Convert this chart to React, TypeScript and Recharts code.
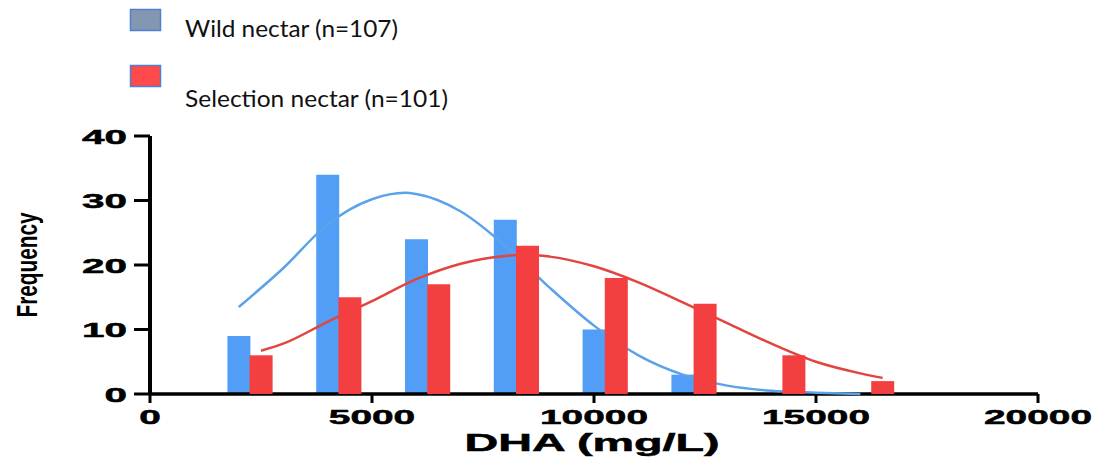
import { ComposedChart, BarChart, LineChart, Bar, Line, XAxis, YAxis, Label } from 'recharts'

// histogram counts: wild bins at 2000, 4000 ... and selection bins offset by 500
const wildBins = [2000, 4000, 6000, 8000, 10000, 12000]
const wildCounts = [9, 34, 24, 27, 10, 3]
const selectionBins = [2500, 4500, 6500, 8500, 10500, 12500, 14500, 16500]
const selectionCounts = [6, 15, 17, 23, 18, 14, 6, 2]

// fitted curves
const wildFitX = [2000, 3000, 4000, 5000, 5750, 6000, 7000, 8000, 9000, 10000, 11000, 12000, 13000, 14000, 15000, 16000]
const wildFitY = [13.5, 19.5, 26.3, 30.2, 31.2, 31, 28.3, 23, 16.5, 10.6, 6, 3, 1.3, 0.5, 0.2, 0]
const selFitX = [2500, 3000, 4000, 5000, 6000, 7000, 8000, 8500, 9000, 10000, 11000, 12000, 13000, 14000, 15000, 16000, 16500]
const selFitY = [6.7, 7.8, 11.2, 14.4, 17.8, 20.2, 21.4, 21.6, 21.3, 19.8, 17.3, 14.2, 11, 7.8, 5, 3.2, 2.5]

const xTicks = [0, 5000, 10000, 15000, 20000]
const yTicks = [0, 10, 20, 30, 40]

const wildRows = wildBins.map((x, i) => ({ x, count: wildCounts[i] }))
const selRows = selectionBins.map((x, i) => ({ x, count: selectionCounts[i] }))
const wildFit = wildFitX.map((x, i) => ({ x, wild: wildFitY[i] }))
const selFit = selFitX.map((x, i) => ({ x, sel: selFitY[i] }))
const fitRows = [...wildFit, ...selFit].sort((a, b) => a.x - b.x)

const W = 1101
const H = 460
const BLUE = '#529ef6'
const RED = '#f43f41'
const tickFont = '"Liberation Sans", Arial, sans-serif'
const layer = { position: 'absolute' as const, left: 0, top: 0 }
// overlay charts hide their axes, so the axis room goes into the margin
const overlayMargin = { top: 136, right: 63, bottom: 66, left: 150 }

const YTick = ({ x, y, payload }: any) => {
  const s = String(payload.value)
  return (
    <text x={x} y={y} dy={7.5} textAnchor="end" fontFamily={tickFont} fontWeight={700}
      fontSize={21} fill="#000" stroke="#000" strokeWidth={0.5}
      textLength={s.length * 22.5} lengthAdjust="spacingAndGlyphs">
      {s}
    </text>
  )
}

const XTick = ({ x, y, payload }: any) => {
  const s = String(payload.value)
  return (
    <text x={x} y={y} dy={17} textAnchor="middle" fontFamily={tickFont} fontWeight={700}
      fontSize={21} fill="#000" stroke="#000" strokeWidth={0.5}
      textLength={s.length * 21.6} lengthAdjust="spacingAndGlyphs">
      {s}
    </text>
  )
}

function LegendBox() {
  const legendFont = 'Lato, "Open Sans", sans-serif'
  return (
    <svg width={500} height={120} style={layer}>
      <rect x={130.5} y={9.5} width={30} height={21} fill="#8497b0" stroke="#4f7fd0" strokeWidth={1.5} />
      <text x={185} y={37} fontFamily={legendFont} fontSize={23} fill="#111"
        textLength={213} lengthAdjust="spacingAndGlyphs">Wild nectar (n=107)</text>
      <rect x={130.5} y={65.5} width={30} height={21} fill="#fe4a4a" stroke="#4f7fd0" strokeWidth={1.5} />
      <text x={185} y={107} fontFamily={legendFont} fontSize={23} fill="#111"
        textLength={263} lengthAdjust="spacingAndGlyphs">Selection nectar (n=101)</text>
    </svg>
  )
}

function HiddenAxes() {
  return [
    <XAxis key="x" dataKey="x" type="number" domain={[0, 20000]} hide allowDataOverflow />,
    <YAxis key="y" type="number" domain={[0, 40]} hide />,
  ]
}

export default function App() {
  return (
    <div style={{ position: 'absolute', left: 0, top: 0, width: W, height: H, background: '#fff' }}>
      {/* base layer: axes + wild bars */}
      <ComposedChart width={W} height={H} data={wildRows}
        margin={{ top: 136, right: 63, bottom: 0, left: 0 }} style={layer}>
        <XAxis
          dataKey="x"
          type="number"
          domain={[0, 20000]}
          ticks={xTicks}
          height={66}
          tick={<XTick />}
          tickSize={9}
          tickMargin={4}
          tickLine={{ stroke: '#000', strokeWidth: 3 }}
          axisLine={{ stroke: '#000', strokeWidth: 3.5 }}
          allowDataOverflow
        >
          <Label
            content={() => (
              <text x={592} y={451} textAnchor="middle" fontFamily={tickFont} fontWeight={700}
                fontSize={24} fill="#000" stroke="#000" strokeWidth={0.5}
                textLength={255} lengthAdjust="spacingAndGlyphs">
                DHA (mg/L)
              </text>
            )}
          />
        </XAxis>
        <YAxis
          type="number"
          domain={[0, 40]}
          ticks={yTicks}
          width={150}
          tick={<YTick />}
          tickSize={16}
          tickMargin={7}
          tickLine={{ stroke: '#000', strokeWidth: 3 }}
          axisLine={{ stroke: '#000', strokeWidth: 4 }}
        >
          <Label
            content={() => (
              <text x={37} y={265} transform="rotate(-90 37 265)" textAnchor="middle"
                fontFamily={tickFont} fontWeight={700} fontSize={30} fill="#000"
                textLength={105} lengthAdjust="spacingAndGlyphs">
                Frequency
              </text>
            )}
          />
        </YAxis>
        <Bar dataKey="count" fill={BLUE} barSize={23} isAnimationActive={false} />
      </ComposedChart>

      {/* fitted curves */}
      <LineChart width={W} height={H} data={fitRows} margin={overlayMargin} style={layer}>
        {HiddenAxes()}
        <Line dataKey="wild" type="monotone" stroke="#5aa2ea" strokeWidth={2.5} connectNulls
          dot={false} activeDot={false} isAnimationActive={false} />
        <Line dataKey="sel" type="monotone" stroke="#e2443f" strokeWidth={2.5} connectNulls
          dot={false} activeDot={false} isAnimationActive={false} />
      </LineChart>

      {/* selection bars on top */}
      <BarChart width={W} height={H} data={selRows} margin={overlayMargin} style={layer}>
        {HiddenAxes()}
        <Bar dataKey="count" fill={RED} barSize={23} isAnimationActive={false} />
      </BarChart>

      <LegendBox />
    </div>
  )
}
